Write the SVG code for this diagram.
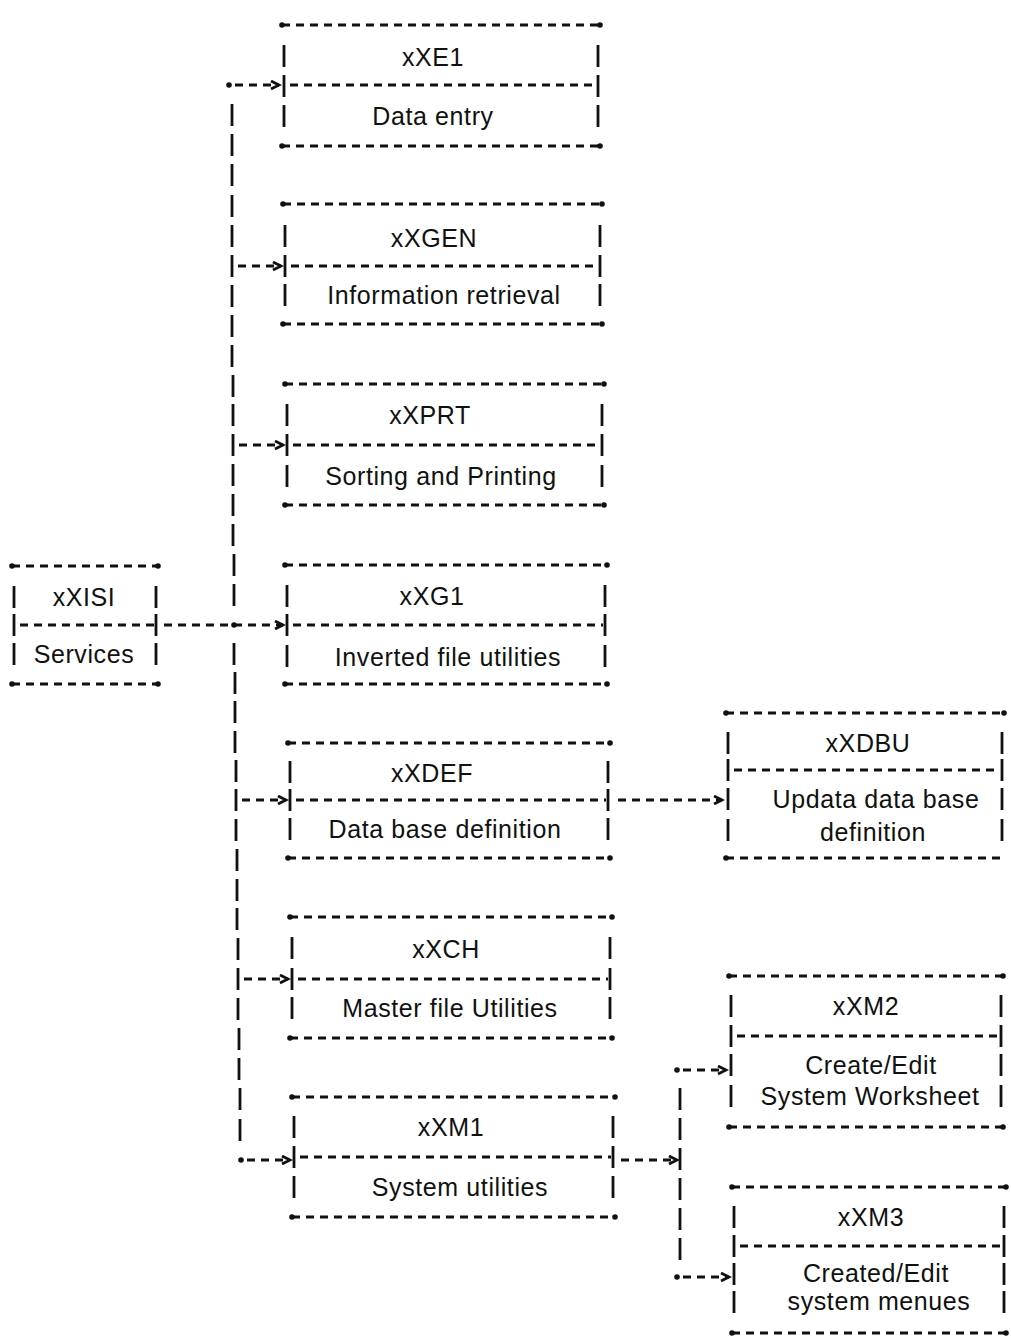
<svg xmlns="http://www.w3.org/2000/svg" width="1011" height="1337" viewBox="0 0 1011 1337">
<style>
.h{stroke:#111;stroke-width:2.8;stroke-dasharray:8 6;fill:none}
.v{stroke:#111;stroke-width:2.8;fill:none}
.d{fill:#111}
text{font-family:"Liberation Sans",Arial,Helvetica,sans-serif;font-size:25px;letter-spacing:0.6px;fill:#111;text-anchor:middle}
</style>
<defs>
<marker id="arr" markerUnits="userSpaceOnUse" markerWidth="12" markerHeight="12" refX="9" refY="5" orient="auto">
<path d="M1,1 L9,5 L1,9" fill="none" stroke="#111" stroke-width="2.8"/>
</marker>
</defs>
<rect width="1011" height="1337" fill="#fff"/>

<g id="node-xXE1">
<line class="h" x1="282" y1="25" x2="600" y2="25"/><line class="h" x1="282" y1="146" x2="600" y2="146"/><line class="h" x1="290" y1="85" x2="596" y2="85"/>
<circle class="d" cx="282" cy="25" r="2.8"/><circle class="d" cx="600" cy="25" r="2.8"/><circle class="d" cx="282" cy="146" r="2.8"/><circle class="d" cx="600" cy="146" r="2.8"/>
<path class="v" d="M284,45V67M284,75V97M284,105V127M598,45V67M598,75V97M598,105V127"/>
<text x="433" y="66">xXE1</text><text x="433" y="125">Data entry</text>
</g>

<g id="node-xXGEN">
<line class="h" x1="283" y1="204" x2="602" y2="204"/><line class="h" x1="283" y1="324" x2="602" y2="324"/><line class="h" x1="291" y1="266" x2="598" y2="266"/>
<circle class="d" cx="283" cy="204" r="2.8"/><circle class="d" cx="602" cy="204" r="2.8"/><circle class="d" cx="283" cy="324" r="2.8"/><circle class="d" cx="602" cy="324" r="2.8"/>
<path class="v" d="M285,225V247M285,255V277M285,284V306M600,225V247M600,255V277M600,284V306"/>
<text x="434" y="247">xXGEN</text><text x="444" y="304">Information retrieval</text>
</g>

<g id="node-xXPRT">
<line class="h" x1="285" y1="384" x2="604" y2="384"/><line class="h" x1="285" y1="505" x2="604" y2="505"/><line class="h" x1="293" y1="445" x2="600" y2="445"/>
<circle class="d" cx="285" cy="384" r="2.8"/><circle class="d" cx="604" cy="384" r="2.8"/><circle class="d" cx="285" cy="505" r="2.8"/><circle class="d" cx="604" cy="505" r="2.8"/>
<path class="v" d="M287,404V426M287,434V456M287,465V487M602,404V426M602,434V456M602,465V487"/>
<text x="430" y="424">xXPRT</text><text x="441" y="485">Sorting and Printing</text>
</g>

<g id="node-xXG1">
<line class="h" x1="285" y1="565" x2="607" y2="565"/><line class="h" x1="285" y1="684" x2="607" y2="684"/><line class="h" x1="293" y1="625" x2="603" y2="625"/>
<circle class="d" cx="285" cy="565" r="2.8"/><circle class="d" cx="607" cy="565" r="2.8"/><circle class="d" cx="285" cy="684" r="2.8"/><circle class="d" cx="607" cy="684" r="2.8"/>
<path class="v" d="M287,585V607M287,614V636M287,645V667M605,585V607M605,614V636M605,645V667"/>
<text x="432" y="605">xXG1</text><text x="448" y="666">Inverted file utilities</text>
</g>

<g id="node-xXDEF">
<line class="h" x1="288" y1="743" x2="610" y2="743"/><line class="h" x1="288" y1="858" x2="610" y2="858"/><line class="h" x1="296" y1="800" x2="606" y2="800"/>
<circle class="d" cx="288" cy="743" r="2.8"/><circle class="d" cx="610" cy="743" r="2.8"/><circle class="d" cx="288" cy="858" r="2.8"/><circle class="d" cx="610" cy="858" r="2.8"/>
<path class="v" d="M290,761V783M290,789V811M290,818V840M608,761V783M608,789V811M608,818V840"/>
<text x="432" y="782">xXDEF</text><text x="445" y="838">Data base definition</text>
</g>

<g id="node-xXCH">
<line class="h" x1="290" y1="917" x2="612" y2="917"/><line class="h" x1="290" y1="1038" x2="612" y2="1038"/><line class="h" x1="298" y1="979" x2="608" y2="979"/>
<circle class="d" cx="290" cy="917" r="2.8"/><circle class="d" cx="612" cy="917" r="2.8"/><circle class="d" cx="290" cy="1038" r="2.8"/><circle class="d" cx="612" cy="1038" r="2.8"/>
<path class="v" d="M292,937V959M292,968V990M292,997V1019M610,937V959M610,968V990M610,997V1019"/>
<text x="446" y="958">xXCH</text><text x="450" y="1017">Master file Utilities</text>
</g>

<g id="node-xXM1">
<line class="h" x1="292" y1="1097" x2="615" y2="1097"/><line class="h" x1="292" y1="1217" x2="615" y2="1217"/><line class="h" x1="300" y1="1157" x2="611" y2="1157"/>
<circle class="d" cx="292" cy="1097" r="2.8"/><circle class="d" cx="615" cy="1097" r="2.8"/><circle class="d" cx="292" cy="1217" r="2.8"/><circle class="d" cx="615" cy="1217" r="2.8"/>
<path class="v" d="M294,1116V1138M294,1146V1168M294,1176V1198M613,1116V1138M613,1146V1168M613,1176V1198"/>
<text x="451" y="1136">xXM1</text><text x="460" y="1196">System utilities</text>
</g>

<g id="node-xXISI">
<line class="h" x1="12" y1="566" x2="158" y2="566"/><line class="h" x1="12" y1="684" x2="158" y2="684"/><line class="h" x1="20" y1="625" x2="154" y2="625"/>
<circle class="d" cx="12" cy="566" r="2.8"/><circle class="d" cx="158" cy="566" r="2.8"/><circle class="d" cx="12" cy="684" r="2.8"/><circle class="d" cx="158" cy="684" r="2.8"/>
<path class="v" d="M14,586V608M14,614V636M14,643V665M156,586V608M156,614V636M156,643V665"/>
<text x="84" y="606">xXISI</text><text x="84" y="663">Services</text>
</g>

<g id="node-xXDBU">
<line class="h" x1="726" y1="713" x2="1004" y2="713"/><line class="h" x1="726" y1="858" x2="1004" y2="858"/><line class="h" x1="734" y1="770" x2="1000" y2="770"/>
<circle class="d" cx="726" cy="713" r="2.8"/><circle class="d" cx="1004" cy="713" r="2.8"/><circle class="d" cx="726" cy="858" r="2.8"/>
<path class="v" d="M728,732V754M728,759V781M728,788V810M728,819V841M1002,732V754M1002,759V781M1002,788V810M1002,819V841"/>
<text x="868" y="752">xXDBU</text><text x="876" y="808">Updata data base</text><text x="873" y="841">definition</text>
</g>

<g id="node-xXM2">
<line class="h" x1="729" y1="976" x2="1003" y2="976"/><line class="h" x1="729" y1="1127" x2="1003" y2="1127"/><line class="h" x1="737" y1="1036" x2="999" y2="1036"/>
<circle class="d" cx="729" cy="976" r="2.8"/><circle class="d" cx="1003" cy="976" r="2.8"/><circle class="d" cx="729" cy="1127" r="2.8"/><circle class="d" cx="1003" cy="1127" r="2.8"/>
<path class="v" d="M731,995V1017M731,1025V1047M731,1054V1076M731,1085V1107M1001,995V1017M1001,1025V1047M1001,1054V1076M1001,1085V1107"/>
<text x="866" y="1015">xXM2</text><text x="871" y="1074">Create/Edit</text><text x="870" y="1105">System Worksheet</text>
</g>

<g id="node-xXM3">
<line class="h" x1="732" y1="1187" x2="1006" y2="1187"/><line class="h" x1="732" y1="1333" x2="1006" y2="1333"/><line class="h" x1="740" y1="1246" x2="1002" y2="1246"/>
<circle class="d" cx="732" cy="1187" r="2.8"/><circle class="d" cx="1006" cy="1187" r="2.8"/><circle class="d" cx="732" cy="1333" r="2.8"/><circle class="d" cx="1006" cy="1333" r="2.8"/>
<path class="v" d="M734,1206V1228M734,1235V1257M734,1263V1285M734,1291V1313M1004,1206V1228M1004,1235V1257M1004,1263V1285M1004,1291V1313"/>
<text x="871" y="1226">xXM3</text><text x="876" y="1282">Created/Edit</text><text x="879" y="1310">system menues</text>
</g>

<g id="connectors">
<path class="v" d="M232,104V126M232,134V156M232,164V186M232,195V217M232,225V247M232,255V277M232,285V307M232,315V337M232,345V367M233,375V397M233,404V426M233,434V456M233,464V486M233,494V516M233,524V546M234,554V576M234,584V606M234,643V665M235,672V694M235,701V723M235,731V753M236,760V782M236,789V811M236,819V841M237,849V871M237,879V901M237,908V930M238,938V960M238,968V990M238,998V1020M239,1028V1050M239,1058V1080M240,1088V1110M240,1119V1141"/>
<circle class="d" cx="229" cy="85" r="2.8"/><circle class="d" cx="234" cy="625" r="2.8"/><circle class="d" cx="241" cy="1160" r="2.8"/>
<line class="h" x1="235" y1="85" x2="279" y2="85" marker-end="url(#arr)"/>
<line class="h" x1="238" y1="266" x2="281" y2="266" marker-end="url(#arr)"/>
<line class="h" x1="239" y1="445" x2="283" y2="445" marker-end="url(#arr)"/>
<line class="h" x1="164" y1="625" x2="283" y2="625" marker-end="url(#arr)"/>
<line class="h" x1="242" y1="800" x2="286" y2="800" marker-end="url(#arr)"/>
<line class="h" x1="244" y1="979" x2="288" y2="979" marker-end="url(#arr)"/>
<line class="h" x1="247" y1="1160" x2="290" y2="1160" marker-end="url(#arr)"/>
<line class="h" x1="618" y1="800" x2="722" y2="800" marker-end="url(#arr)"/>
<line class="h" x1="621" y1="1160" x2="677" y2="1160" marker-end="url(#arr)"/>
<path class="v" d="M680,1088V1110M680,1118V1140M680,1148V1170M680,1178V1200M680,1208V1230M680,1238V1260"/>
<circle class="d" cx="677" cy="1070" r="2.8"/><circle class="d" cx="677" cy="1277" r="2.8"/>
<line class="h" x1="683" y1="1070" x2="726" y2="1070" marker-end="url(#arr)"/>
<line class="h" x1="683" y1="1277" x2="729" y2="1277" marker-end="url(#arr)"/>
</g>
</svg>
